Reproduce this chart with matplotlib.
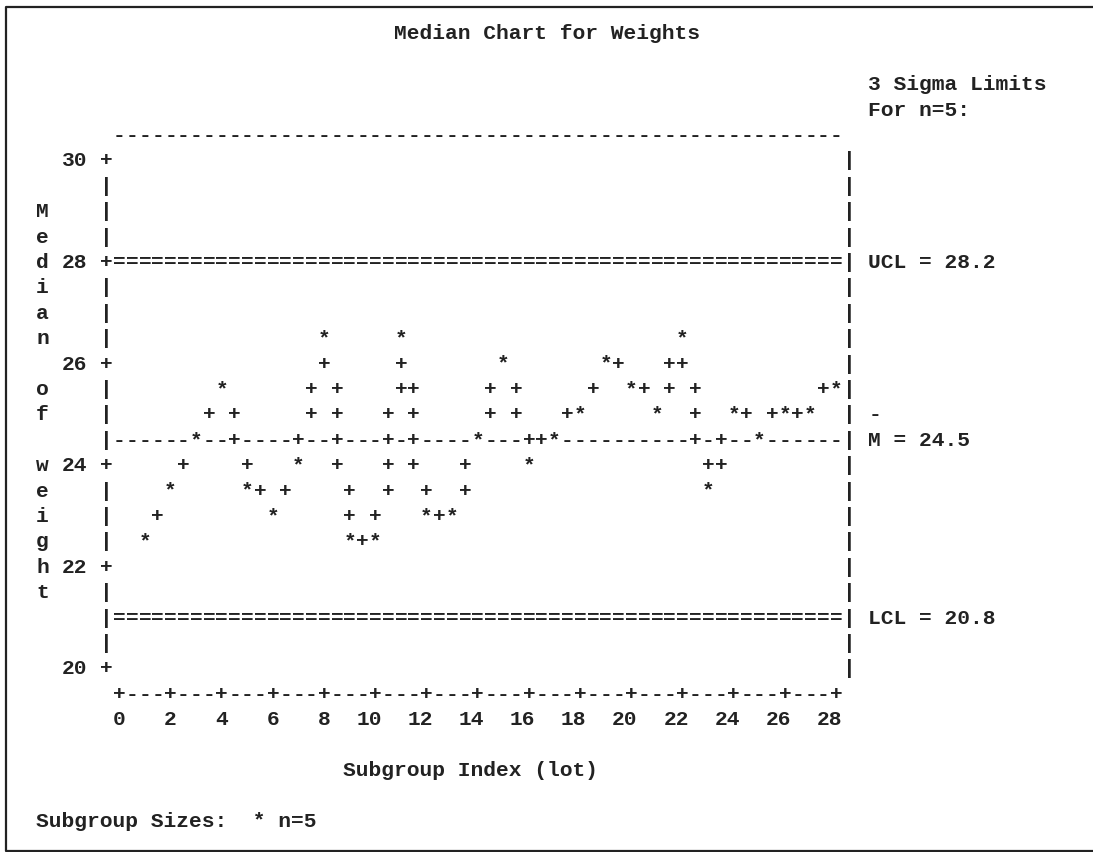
import math
import matplotlib
matplotlib.use("Agg")
import matplotlib.pyplot as plt
from matplotlib.lines import Line2D

# subgroup medians
lots = list(range(1, 29))
medians = [22.5, 23.5, 24.5, 25.5, 23.5, 23.0, 24.0, 26.5, 22.5, 22.5,
           26.5, 23.0, 23.0, 24.5, 26.0, 24.0, 24.5, 25.0, 26.0, 25.5,
           25.0, 26.5, 23.5, 25.0, 24.5, 25.0, 25.0, 25.5]
ucl = 28.2
center = 24.5
lcl = 20.8
y_ticks = [20, 22, 24, 26, 28, 30]
x_ticks = list(range(0, 29, 2))

title = "Median Chart for Weights"
x_label = "Subgroup Index (lot)"
y_label = "Median of weight"
limits_head = ["3 Sigma Limits", "For n=5:"]
sizes_note = "Subgroup Sizes:  * n=5"

FONT = "Liberation Mono"
FS = 15.3
INK = "#222222"


def snap(v):
    # line printer cells are half a unit apart, both ways
    return math.floor(v * 2 + 0.5) / 2


def half_steps(a, b):
    return [a + 0.5 * i for i in range(int(round((b - a) * 2)) + 1)]


def connector(x0, y0, x1, y1):
    c0, r0, c1, r1 = x0 * 2, y0 * 2, x1 * 2, y1 * 2
    n = int(max(abs(c1 - c0), abs(r1 - r0)))
    out = []
    for k in range(1, n):
        t = k / n
        c = math.floor(c0 + (c1 - c0) * t + 0.5)
        r = math.floor(r0 + (r1 - r0) * t + 0.5)
        out.append((c / 2, r / 2))
    return out


fig = plt.figure(figsize=(10.93, 8.52), dpi=100)
ax = fig.add_axes([0, 0, 1, 1])
ax.axis("off")
ax.set_xlim(-119.3 / 25.6, (1093 - 119.3) / 25.6)
ax.set_ylim(30 - (852 - 159) / 50.8, 30 + 159 / 50.8)

txt = dict(family=FONT, weight="bold", size=FS, color=INK, va="center_baseline")

# character cells of the plot frame
cells = {}
left, right = -0.5, 28.5
for y in half_steps(20, 30):
    cells[(left, y)] = "+" if y in y_ticks else "|"
    cells[(right, y)] = "|"
for x in half_steps(0, 28):
    cells[(x, 30.5)] = "-"
    cells[(x, snap(ucl))] = "="
    cells[(x, snap(lcl))] = "="
    cells[(x, snap(center))] = "-"
    cells[(x, 19.5)] = "+" if x in x_ticks else "-"

# connecting line, then the medians on top
for i in range(len(lots) - 1):
    for c in connector(lots[i], medians[i], lots[i + 1], medians[i + 1]):
        cells[c] = "+"
for x, m in zip(lots, medians):
    cells[(x, snap(m))] = "*"

for (x, y), ch in cells.items():
    ax.text(x, y, ch, ha="center", **txt)

# tick labels
for v in y_ticks:
    ax.text(-1.25, v, str(v), ha="right", **txt)
for v in x_ticks:
    ax.text(v + 0.25, 19.0, str(v), ha="right", **txt)

# vertical axis title, one letter per row
for i, ch in enumerate(y_label):
    if ch != " ":
        ax.text(-3.0, 29.0 - 0.5 * i, ch, ha="center", **txt)

ax.text(10.75, 32.5, title, ha="left", **txt)
ax.text(29.25, 31.5, limits_head[0], ha="left", **txt)
ax.text(29.25, 31.0, limits_head[1], ha="left", **txt)
ax.text(29.25, snap(ucl), f"UCL = {ucl:.1f}", ha="left", **txt)
ax.text(29.5, snap(center) + 0.5, "-", ha="center", **txt)
ax.text(29.25, snap(center), f"M = {center:.1f}", ha="left", **txt)
ax.text(29.25, snap(lcl), f"LCL = {lcl:.1f}", ha="left", **txt)
ax.text(8.75, 18.0, x_label, ha="left", **txt)
ax.text(-3.25, 17.0, sizes_note, ha="left", **txt)

# page border (left, top, bottom)
W, H = 1093, 852
bx = [1100 / W, 6 / W, 6 / W, 1100 / W]
by = [1 - 7 / H, 1 - 7 / H, 1 - 851 / H, 1 - 851 / H]
fig.add_artist(Line2D(bx, by, transform=fig.transFigure, color=INK, lw=1.6))

fig.savefig("out.png", dpi=100)
